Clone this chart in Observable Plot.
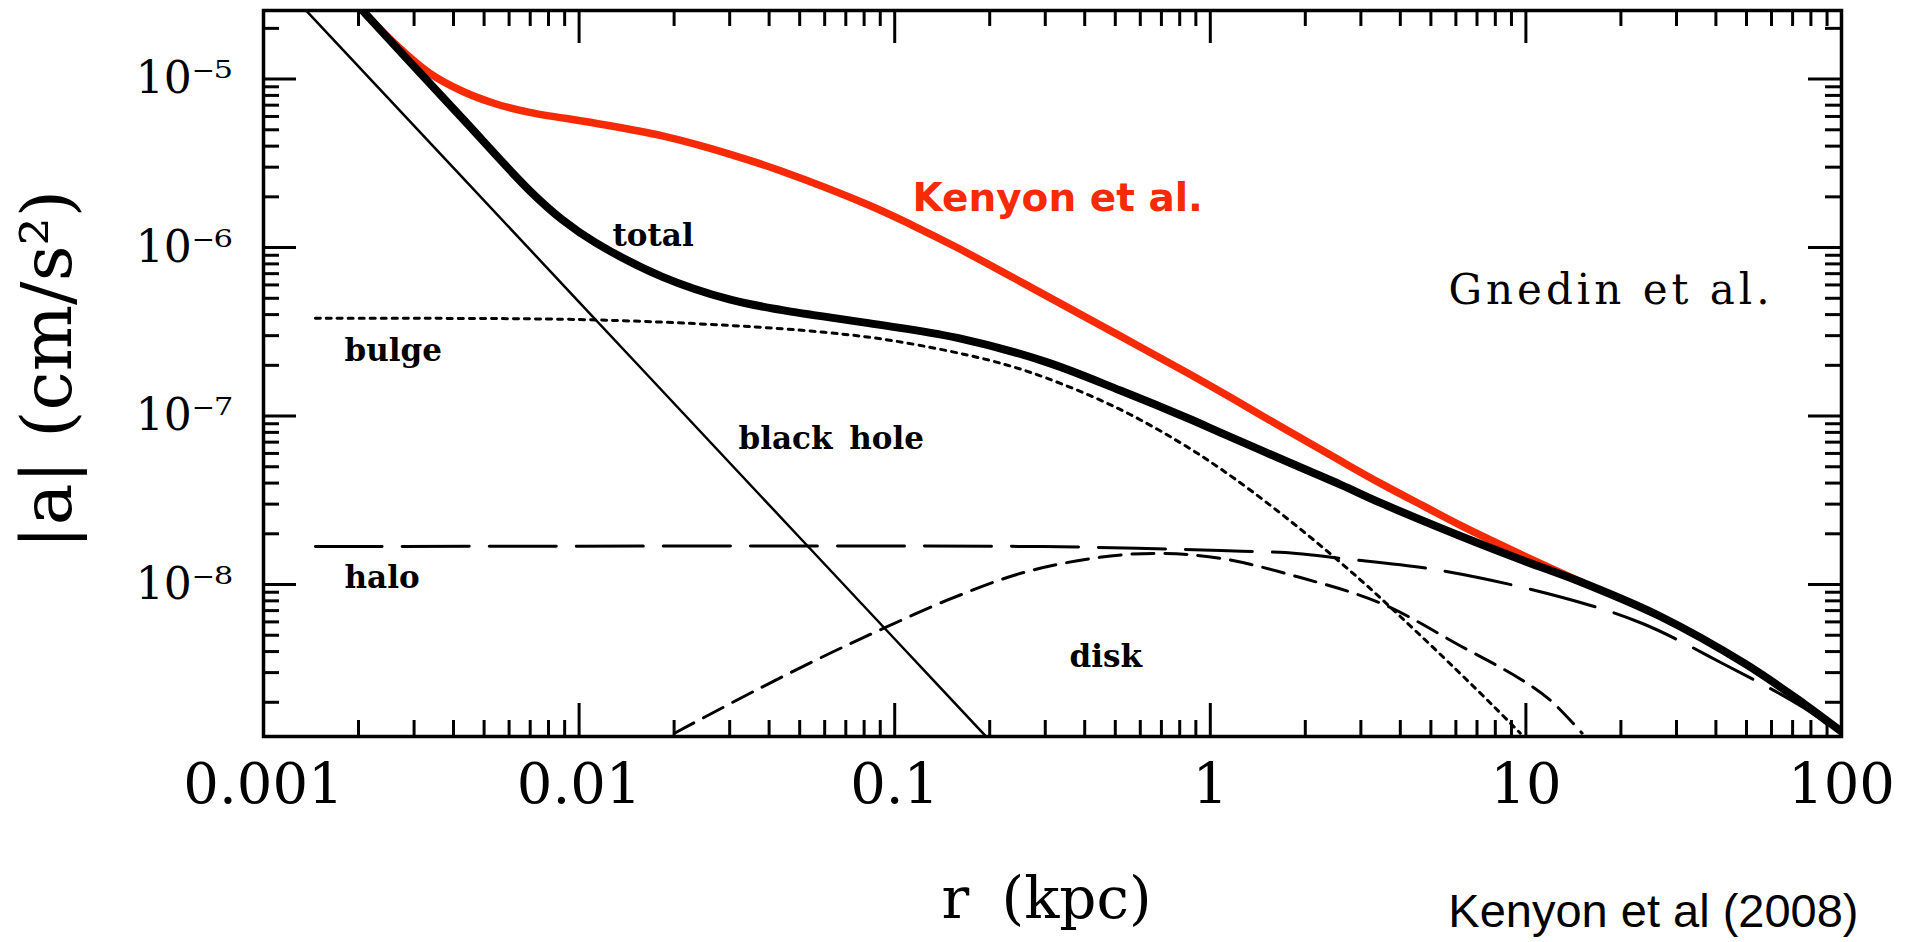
<!DOCTYPE html>
<html>
<head>
<meta charset="utf-8">
<script src="https://cdn.jsdelivr.net/npm/d3@7"></script>
<script src="https://cdn.jsdelivr.net/npm/@observablehq/plot@0.6"></script>
<style>
  html, body { margin: 0; padding: 0; background: #ffffff; }
  #chart svg { display: block; }
</style>
</head>
<body>
<div id="chart"></div>
<script>
// ---------------- data ----------------
// r in kpc, |a| in cm/s^2
const totalR = [0.00206, 0.00275, 0.00427, 0.00697, 0.00886, 0.01127, 0.01837, 0.02996, 0.04409, 0.0826, 0.1581, 0.3027, 0.5193, 0.8531, 1.077, 1.808, 2.585, 3.512, 6.251, 9.61, 15.07, 26.7, 49.3, 75.8, 100];
const totalA = [2.55e-5, 1.416e-5, 5.83e-6, 2.18e-6, 1.46e-6, 1.07e-6, 6.70e-7, 4.92e-7, 4.25e-7, 3.56e-7, 2.91e-7, 2.09e-7, 1.417e-7, 9.665e-8, 7.98e-8, 5.225e-8, 3.92e-8, 3.02e-8, 1.927e-8, 1.407e-8, 1.028e-8, 6.46e-9, 3.40e-9, 1.97e-9, 1.34e-9];

const kenyonR = [0.00206, 0.002563, 0.003357, 0.00427, 0.00543, 0.00697, 0.01127, 0.01837, 0.02996, 0.04345, 0.0826, 0.1138, 0.1581, 0.3027, 0.5193, 0.8531, 1.176, 1.808, 2.585, 3.512, 4.81, 6.251, 9.61, 15.07];
const kenyonA = [2.55e-5, 1.669e-5, 1.085e-5, 8.47e-6, 7.14e-6, 6.35e-6, 5.47e-6, 4.60e-6, 3.59e-6, 2.855e-6, 1.788e-6, 1.356e-6, 9.97e-7, 5.17e-7, 2.98e-7, 1.787e-7, 1.270e-7, 7.95e-8, 5.42e-8, 3.93e-8, 2.88e-8, 2.23e-8, 1.515e-8, 1.03e-8];

const blackHoleR = [0.00137, 0.01, 0.0527, 0.1, 0.193];
const blackHoleA = [2.53e-5, 4.75e-7, 1.71e-8, 4.75e-9, 1.275e-9];

const bulgeR = [0.00146, 0.01, 0.03, 0.06, 0.1, 0.2, 0.3, 0.5, 0.8, 1.2, 2, 3, 4, 6, 8, 9.6];
const bulgeA = [3.8e-7, 3.74e-7, 3.45e-7, 3.14e-7, 2.79e-7, 2.14e-7, 1.69e-7, 1.13e-7, 6.98e-8, 4.22e-8, 2.02e-8, 1.06e-8, 6.46e-9, 3.14e-9, 1.85e-9, 1.31e-9];

const haloR = [0.00146, 0.294, 0.588, 1.077, 1.875, 2.585, 5.40, 13.06, 23.4, 42.0, 75.7, 100];
const haloA = [1.68e-8, 1.68e-8, 1.64e-8, 1.59e-8, 1.53e-8, 1.43e-8, 1.21e-8, 8.38e-9, 5.87e-9, 3.40e-9, 1.86e-9, 1.27e-9];

const diskR = [0.02005, 0.0362, 0.0631, 0.0935, 0.146, 0.256, 0.446, 0.681, 1.077, 1.93, 3.49, 6.25, 9.54, 11.97, 15.07];
const diskA = [1.31e-9, 2.35e-9, 3.95e-9, 5.56e-9, 8.04e-9, 1.178e-8, 1.45e-8, 1.53e-8, 1.43e-8, 1.10e-8, 7.71e-9, 4.29e-9, 2.77e-9, 2.05e-9, 1.31e-9];

// curve labels (text and anchor in data space)
const curveLabels = ["total", "bulge", "halo", "black hole", "disk"];
const curveLabelR = [0.01276, 0.001806, 0.001806, 0.03199, 0.358];
const curveLabelA = [1.028e-6, 2.135e-7, 9.60e-9, 6.41e-8, 3.22e-9];

// axes
const xDomain = [0.001, 100];
const yDomain = [1.253e-9, 2.553e-5];
const xMajor = [0.001, 0.01, 0.1, 1, 10, 100];
const xTickLabels = ["0.001", "0.01", "0.1", "1", "10", "100"];
const yMajor = [1e-8, 1e-7, 1e-6, 1e-5];
const yTickLabels = ["10\u207B\u2078", "10\u207B\u2077", "10\u207B\u2076", "10\u207B\u2075"];
const minorMultipliers = [2, 3, 4, 5, 6, 7, 8, 9];
const xDecades = [0.001, 0.01, 0.1, 1, 10];
const yDecades = [1e-9, 1e-8, 1e-7, 1e-6, 1e-5];

// ---------------- build ----------------
const rows = (r, a) => r.map((d, i) => ({r: d, a: a[i]}));
const minorTicks = (decades, domain) =>
  decades.flatMap(d => minorMultipliers.map(m => d * m)).filter(v => v > domain[0] && v < domain[1]);
const xMinor = minorTicks(xDecades, xDomain);
const yMinor = minorTicks(yDecades, yDomain);
const xLabelOf = new Map(xMajor.map((v, i) => [v, xTickLabels[i]]));
const yLabelOf = new Map(yMajor.map((v, i) => [v, yTickLabels[i]]));
const labelRows = curveLabels.map((t, i) => ({t, r: curveLabelR[i], a: curveLabelA[i]}));

const W = 1914, H = 942;
const mL = 263, mR = 73, mT = 10, mB = 206;
const pw = W - mL - mR, ph = H - mT - mB;
const majorLen = 33, minorLen = 16;
const tickStyle = {stroke: "black", strokeWidth: 3};
const lineBase = {x: "r", y: "a", curve: "catmull-rom", clip: true, strokeLinejoin: "round"};

const chart = Plot.plot({
  width: W,
  height: H,
  marginLeft: mL, marginRight: mR, marginTop: mT, marginBottom: mB,
  style: {background: "#ffffff", fontFamily: "DejaVu Serif", color: "black", overflow: "visible"},
  x: {type: "log", domain: xDomain},
  y: {type: "log", domain: yDomain},
  marks: [
    // inward ticks: bottom, top, left, right
    Plot.tickX(xMinor, {x: d => d, insetTop: ph - minorLen, ...tickStyle}),
    Plot.tickX(xMajor, {x: d => d, insetTop: ph - majorLen, ...tickStyle}),
    Plot.tickX(xMinor, {x: d => d, insetBottom: ph - minorLen, ...tickStyle}),
    Plot.tickX(xMajor, {x: d => d, insetBottom: ph - majorLen, ...tickStyle}),
    Plot.tickY(yMinor, {y: d => d, insetRight: pw - minorLen, ...tickStyle}),
    Plot.tickY(yMajor, {y: d => d, insetRight: pw - majorLen, ...tickStyle}),
    Plot.tickY(yMinor, {y: d => d, insetLeft: pw - minorLen, ...tickStyle}),
    Plot.tickY(yMajor, {y: d => d, insetLeft: pw - majorLen, ...tickStyle}),

    // tick labels
    Plot.axisX(xMajor, {anchor: "bottom", tickSize: 0, tickPadding: 27, fontSize: 56, label: null,
      tickFormat: d => xLabelOf.get(d)}),
    Plot.axisY(yMajor, {anchor: "left", tickSize: 0, tickPadding: 31, fontSize: 44, label: null,
      tickFormat: d => yLabelOf.get(d)}),

    // component curves
    Plot.line(rows(bulgeR, bulgeA), {...lineBase, stroke: "black", strokeWidth: 3, strokeDasharray: "5,6"}),
    Plot.line(rows(haloR, haloA), {...lineBase, stroke: "black", strokeWidth: 3, strokeDasharray: "67,20"}),
    Plot.line(rows(diskR, diskA), {...lineBase, stroke: "black", strokeWidth: 3, strokeDasharray: "22,11"}),
    Plot.line(rows(blackHoleR, blackHoleA), {...lineBase, stroke: "black", strokeWidth: 2.5}),
    Plot.line(rows(kenyonR, kenyonA), {...lineBase, stroke: "#f72a06", strokeWidth: 7.5}),
    Plot.line(rows(totalR, totalA), {...lineBase, stroke: "black", strokeWidth: 8}),

    Plot.frame({stroke: "black", strokeWidth: 3.5}),

    // curve labels
    Plot.text(labelRows, {x: "r", y: "a", text: "t", textAnchor: "start", lineAnchor: "bottom",
      fontSize: 31, fontWeight: "bold", fontFamily: "DejaVu Serif", fill: "black"}),
    Plot.text(["Kenyon et al."], {x: [0.1138], y: [1.658e-6], text: d => d, textAnchor: "start", lineAnchor: "bottom",
      fontSize: 39, fontWeight: "bold", fontFamily: "DejaVu Sans", fill: "#f72a06"}),
    Plot.text(["Gnedin et al."], {x: [5.686], y: [4.65e-7], text: d => d, textAnchor: "start", lineAnchor: "bottom",
      fontSize: 42, fontFamily: "DejaVu Serif", fill: "black"}),

    // axis titles and caption
    Plot.text(["r (kpc)"], {frameAnchor: "bottom", dx: -6, dy: 181, lineAnchor: "bottom", textAnchor: "middle",
      fontSize: 58, fontFamily: "DejaVu Serif", fill: "black"}),
    Plot.text(["|a| (cm/s\u00B2)"], {frameAnchor: "left", dx: -215, dy: -4, rotate: -90, textAnchor: "middle",
      lineAnchor: "middle", fontSize: 70, fontFamily: "DejaVu Serif", fill: "black"}),
    Plot.text(["Kenyon et al (2008)"], {frameAnchor: "bottom-right", dx: 17, dy: 190, textAnchor: "end",
      lineAnchor: "bottom", fontSize: 47, fontFamily: "Liberation Sans", fill: "black"})
  ]
});

d3.select(chart).selectAll("text")
  .filter(function () { return this.textContent === "Gnedin et al."; })
  .style("letter-spacing", "4px");
d3.select(chart).selectAll("text")
  .filter(function () { return this.textContent === "r (kpc)"; })
  .style("word-spacing", "14px");
d3.select(chart).selectAll("text")
  .filter(function () { return this.textContent === "black hole"; })
  .style("word-spacing", "6px");

document.getElementById("chart").appendChild(chart);
</script>
</body>
</html>
